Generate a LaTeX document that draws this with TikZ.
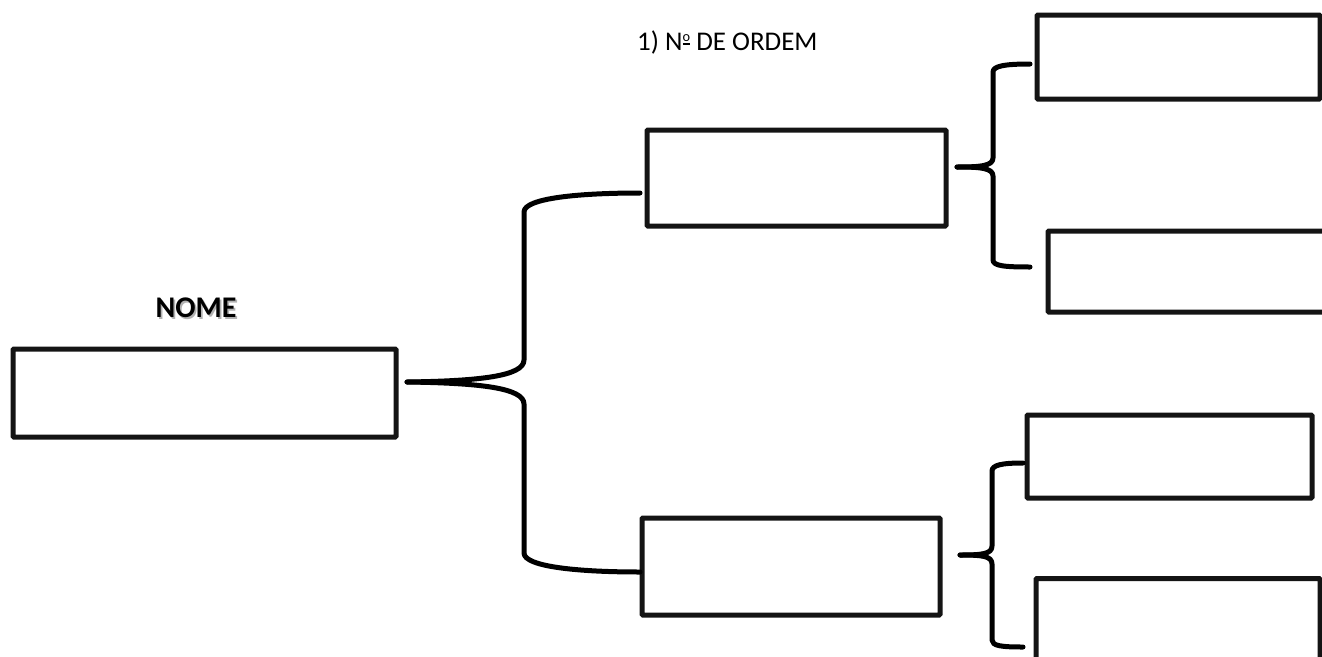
\documentclass[tikz,border=0pt]{standalone}
\usepackage{fontspec}
\setmainfont{Carlito}
\newcommand{\myordm}{\makebox[0pt][l]{\hspace{0.3pt}\raisebox{5.3pt}{\rule{6.8pt}{1.5pt}}}\raisebox{9pt}{\fontsize{14.3}{14.3}\selectfont o}}
\begin{document}
\begin{tikzpicture}[x=1pt,y=-1pt,
  box/.style={draw=black!92,line width=5pt,rounded corners=1pt,inner sep=0pt,minimum width=#1},
  brace/.style={draw=black,line width=5pt,line cap=round,line join=round},
  lbl/.style={inner sep=0pt,anchor=base}]
\useasboundingbox (0,0) rectangle (1322,656);
\fill[white] (0,0) rectangle (1322,656);
% boxes
\node[box=383pt,minimum height=88pt] (nome) at (204.5,393) {};
\node[box=299pt,minimum height=96pt] (a) at (796.5,178) {};
\node[box=298pt,minimum height=97pt] (b) at (791,566.5) {};
\node[box=283pt,minimum height=84pt] (r1) at (1178.5,57) {};
\node[box=290pt,minimum height=81pt] (r2) at (1193,271.5) {};
\node[box=285pt,minimum height=83pt] (r3) at (1169.5,456.5) {};
\node[box=284pt,minimum height=95pt] (r4) at (1178,626) {};
% labels
\node[lbl,text=black!30,font=\fontsize{30}{36}\selectfont\bfseries] (nomesh) at (197.8,319) {NOME};
\node[lbl,font=\fontsize{30}{36}\selectfont\bfseries] (nometxt) at (196,317) {NOME};
\node[lbl,anchor=base west,font=\fontsize{27}{32}\selectfont] (ordem) at (637,50) {1) N\myordm{} DE ORDEM};
% brace coordinates
\coordinate (t0) at (407,382);
\coordinate (t0a) at (640,193);
\coordinate (t0b) at (640,572);
\coordinate (t1) at (957,167);
\coordinate (t1a) at (1030,64);
\coordinate (t1b) at (1030,267);
\coordinate (t2) at (960,555);
\coordinate (t2a) at (1023,463);
\coordinate (t2b) at (1023,647);
% big brace
\draw[brace] (t0) .. controls (480,381) and (524,376) .. (524,360) -- (524,212)
   .. controls (524,198) and (580,193) .. (t0a);
\draw[brace] (t0) .. controls (480,383) and (524,388) .. (524,404) -- (524,553)
   .. controls (524,567) and (580,572) .. (t0b);
% upper right brace
\draw[brace] (t1) .. controls (980,167) and (993,166) .. (993,158) -- (993,72)
   .. controls (993,66) and (1005,64) .. (t1a);
\draw[brace] (t1) .. controls (980,167) and (993,168) .. (993,176) -- (993,260)
   .. controls (993,266) and (1005,267) .. (t1b);
% lower right brace
\draw[brace] (t2) .. controls (982,555) and (992,554) .. (992,546) -- (992,471)
   .. controls (992,465) and (1002,463) .. (t2a);
\draw[brace] (t2) .. controls (982,555) and (992,556) .. (992,564) -- (992,640)
   .. controls (992,646) and (1002,647) .. (t2b);
\end{tikzpicture}
\end{document}
